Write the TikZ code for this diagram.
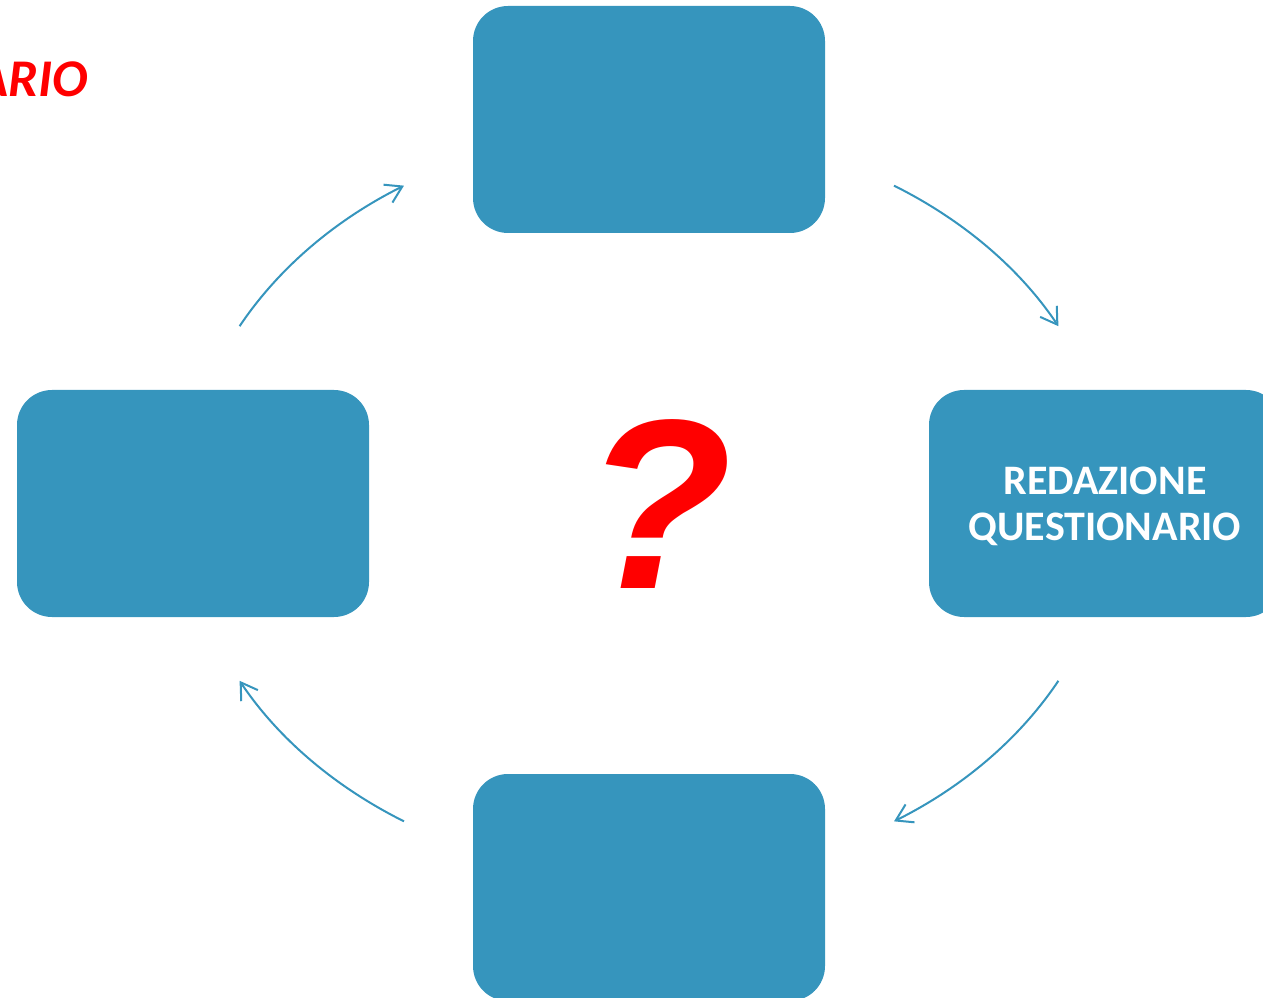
\documentclass[tikz,border=0pt]{standalone}
\usepackage{fontspec}
\usepackage{xcolor}
\usetikzlibrary{arrows.meta}
\setmainfont{Carlito}
\newfontfamily\qmarkfont{Liberation Sans}
\definecolor{cycleblue}{RGB}{54,149,189}
\definecolor{alertred}{RGB}{255,0,0}

\begin{document}
\begin{tikzpicture}[x=1pt,y=1pt]
        \tikzset{stage/.style={fill=cycleblue, rounded corners=35pt, minimum width=352pt, minimum height=227pt, inner sep=0pt, text=white, align=center, font=\bfseries\fontsize{42}{46}\selectfont}}
        \tikzset{cycarrow/.style={-{Straight Barb[length=16pt, width=20pt, line width=2pt]}, cycleblue, line width=2pt}}
        \useasboundingbox (0,0) rectangle (1263,997);
        
        % four stages of the cycle
        \coordinate (c) at (649,493.5);
        \node[stage] (top) at (649,877.5) {};
        \node[stage, text depth=0pt] (right) at (1105,493.5) {REDAZIONE\\QUESTIONARIO};
        \node[stage] (bottom) at (649,109.5) {};
        \node[stage] (left) at (193,493.5) {};
        
        % arrows on an ellipse round the centre
        \path (c) ++(151.7:465 and 374) coordinate (s1);
        \path (c) ++(58.2:465 and 374) coordinate (s2);
        \path (c) ++(-28.3:465 and 374) coordinate (s3);
        \path (c) ++(-121.8:465 and 374) coordinate (s4);
        \draw[cycarrow] (s1) arc [start angle=151.7, end angle=121.8, x radius=465, y radius=374];
        \draw[cycarrow] (s2) arc [start angle=58.2, end angle=28.3, x radius=465, y radius=374];
        \draw[cycarrow] (s3) arc [start angle=-28.3, end angle=-58.2, x radius=465, y radius=374];
        \draw[cycarrow] (s4) arc [start angle=-121.8, end angle=-151.7, x radius=465, y radius=374];
        
        % texts in red
        \node[inner sep=0pt, text=alertred, font=\qmarkfont\bfseries\itshape\fontsize{242}{242}\selectfont] (qmark) at (658,493) {?};
        \node[anchor=base east, inner sep=0pt, text=alertred, font=\bfseries\itshape\fontsize{53}{53}\selectfont] (title) at (88,900) {ARIO};
\end{tikzpicture}
\end{document}
